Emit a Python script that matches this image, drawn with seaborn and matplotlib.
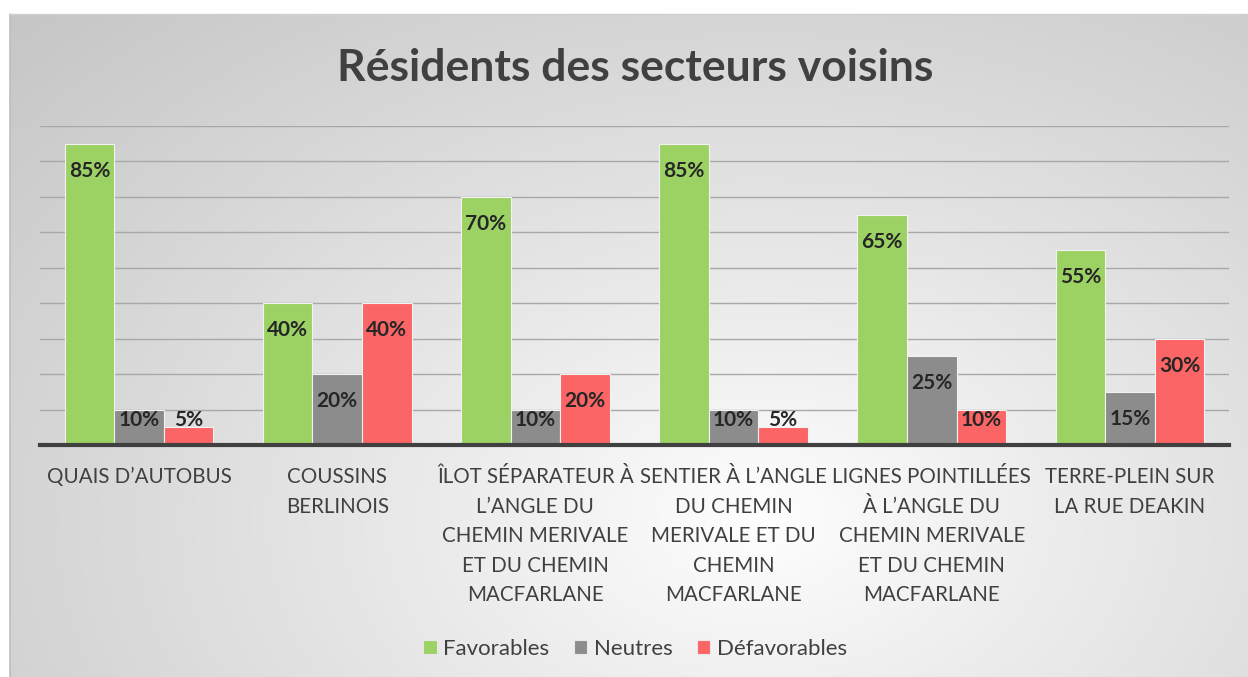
import numpy as np
import pandas as pd
import matplotlib
matplotlib.use('Agg')
import matplotlib.pyplot as plt
import seaborn as sns

# data
categories = [
    "QUAIS D\u2019AUTOBUS",
    "COUSSINS\nBERLINOIS",
    "\u00ceLOT S\u00c9PARATEUR \u00c0\nL\u2019ANGLE DU\nCHEMIN MERIVALE\nET DU CHEMIN\nMACFARLANE",
    "SENTIER \u00c0 L\u2019ANGLE\nDU CHEMIN\nMERIVALE ET DU\nCHEMIN\nMACFARLANE",
    "LIGNES POINTILL\u00c9ES\n\u00c0 L\u2019ANGLE DU\nCHEMIN MERIVALE\nET DU CHEMIN\nMACFARLANE",
    "TERRE-PLEIN SUR\nLA RUE DEAKIN",
]
series = ["Favorables", "Neutres", "D\u00e9favorables"]
favorables = [85, 40, 70, 85, 65, 55]
neutres = [10, 20, 10, 10, 25, 15]
defavorables = [5, 40, 20, 5, 10, 30]
colors = ["#9cd264", "#8c8c8c", "#fb6565"]
title = "R\u00e9sidents des secteurs voisins"

df = pd.DataFrame({
    "cat": categories * 3,
    "serie": np.repeat(series, len(categories)),
    "val": favorables + neutres + defavorables,
})

sns.set_theme(style="white")
plt.rcParams['font.family'] = ['Lato', 'DejaVu Sans']

fig = plt.figure(figsize=(12.48, 6.77), dpi=100)
fig.patch.set_facecolor("white")

# radial grey gradient panel behind the chart
bg = fig.add_axes([0, 0, 1, 1], zorder=0)
W, H = 1248, 677
yy, xx = np.mgrid[0:H, 0:W]
r = np.sqrt(((xx - 760) / 900.0) ** 2 + ((yy - 520) / 620.0) ** 2)
r = np.clip(r / r.max(), 0, 1)
shade = 1.0 - 0.23 * r ** 0.9
img = np.dstack([shade, shade, shade])
img[:14, :, :] = 1.0
img[:, :10, :] = 1.0
bg.imshow(img, extent=[0, 1, 0, 1], aspect='auto', interpolation='bilinear')
bg.plot([10 / W, 10 / W], [0, 1 - 14 / H], color="#bdbdbd", lw=1.2)
bg.plot([10 / W, 1], [1 - 14 / H, 1 - 14 / H], color="#d0d0d0", lw=1.0)
bg.set_xlim(0, 1)
bg.set_ylim(0, 1)
bg.axis("off")

ax = fig.add_axes([40 / W, 232 / H, 1189 / W, 319 / H], zorder=1)
ax.patch.set_alpha(0)
sns.barplot(data=df, x="cat", y="val", hue="serie", hue_order=series,
            palette=colors, width=0.75, gap=0, ax=ax, legend=False,
            edgecolor="#f2f2f2", linewidth=0.8, saturation=1, errorbar=None)

ax.set_ylim(0, 90)
ax.set_yticks(np.arange(10, 91, 10))
ax.yaxis.grid(True, color="#a8a8a8", linewidth=1.0)
ax.set_axisbelow(True)
ax.set_yticklabels([])
ax.tick_params(axis='y', length=0)
ax.tick_params(axis='x', length=0, pad=16, labelsize=14.8, labelcolor="#404040")
for lbl in ax.get_xticklabels():
    lbl.set_linespacing(1.59)
    lbl.set_verticalalignment("top")
ax.set_xlabel("")
ax.set_ylabel("")
for s in ["top", "left", "right"]:
    ax.spines[s].set_visible(False)
ax.spines["bottom"].set_color("#404040")
ax.spines["bottom"].set_linewidth(3)

for container in ax.containers:
    for bar in container:
        v = bar.get_height()
        x = bar.get_x() + bar.get_width() / 2
        ax.text(x, max(v - 7.6, 7.0), f"{v:.0f}%", ha="center", va="center",
                fontsize=15, fontweight="bold", color="#262626", zorder=5)

fig.text(0.509, 0.899, title, ha="center", va="center", fontsize=32,
         fontweight="bold", color="#404040")

handles = [plt.Rectangle((0, 0), 1, 1, facecolor=c, edgecolor="#e8e8e8", lw=0.8)
           for c in colors]
fig.legend(handles, series, loc="center", bbox_to_anchor=(0.509, 0.042), ncol=3,
           frameon=False, fontsize=16, handlelength=0.6, handleheight=0.6,
           handletextpad=0.3, columnspacing=1.1, labelcolor="#404040")

fig.savefig("out.png", dpi=100)
